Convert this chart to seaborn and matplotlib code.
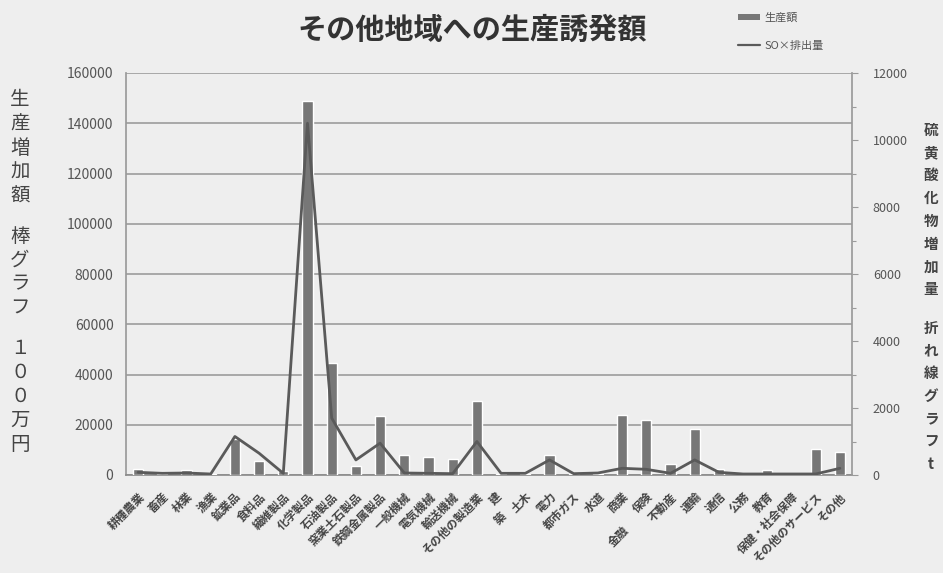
import matplotlib
matplotlib.use("Agg")
import matplotlib.pyplot as plt
import matplotlib.ticker as mticker
import matplotlib.transforms as mtransforms
from matplotlib.patches import Patch
from matplotlib.lines import Line2D
import pandas as pd
import seaborn as sns

# 産業部門（軸ラベルに表示する文字列）
sectors = [
    "耕種農業", "畜産", "林業", "漁業", "鉱業品", "食料品", "繊維製品", "化学製品",
    "石油製品", "窯業土石製品", "鉄鋼金属製品", "一般機械", "電気機械", "輸送機械",
    "その他の製造業", "建", "土木", "電力", "都市ガス", "水道", "商業", "保険",
    "不動産", "運輸", "通信", "公務", "教育", "保健・社会保障", "その他のサービス", "その他",
]
# ラベルの下に続けて書く文字（部門番号: 文字列）
label_tails = {15: "築", 20: "金融"}
# 生産誘発額（100万円）
production = [
    2500, 500, 2000, 300, 14500, 5500, 1500, 149000,
    44500, 3500, 23500, 7800, 7000, 6200,
    29500, 500, 300, 7800, 300, 300, 23800, 22000,
    4500, 18500, 2500, 300, 2000, 300, 10300, 9000,
]
# 硫黄酸化物排出量（t）
sox = [
    80, 50, 60, 30, 1150, 650, 50, 10500,
    1700, 450, 950, 60, 50, 40,
    1000, 50, 50, 450, 40, 60, 200, 170,
    50, 450, 80, 30, 30, 30, 30, 200,
]

title = "その他地域への生産誘発額"
left_label = ["生", "産", "増", "加", "額", None, "棒", "グ", "ラ", "フ", None,
              "１", "０", "０", "万", "円"]
right_label = ["硫", "黄", "酸", "化", "物", "増", "加", "量", None,
               "折", "れ", "線", "グ", "ラ", "フ", "t"]

sns.set_theme(style="white")
plt.rcParams["font.family"] = ["Noto Sans CJK JP", "DejaVu Sans"]

W, H = 943, 573
fig = plt.figure(figsize=(W / 100, H / 100), dpi=100)
bg = "#eeeeee"
fig.patch.set_facecolor(bg)

ax = fig.add_axes([126 / W, (H - 475) / H, (852 - 126) / W, (475 - 73) / H])
ax.set_facecolor(bg)

df = pd.DataFrame({"sector": sectors, "production": production, "sox": sox})
bar_color = "#777777"
line_color = "#5a5a5a"

sns.barplot(data=df, x="sector", y="production", color=bar_color, width=0.42,
            saturation=1, ax=ax, zorder=3)
ax.set_ylim(0, 160000)
ax.set_xlim(-0.5, len(sectors) - 0.5)
ax.yaxis.set_major_locator(mticker.MultipleLocator(20000))
ax.grid(axis="y", color="#959595", lw=1.1, zorder=0)
ax.set_axisbelow(True)
ax.set_xlabel("")
ax.set_ylabel("")
for s in ["top", "right"]:
    ax.spines[s].set_visible(False)
ax.spines["left"].set_color("#9a9a9a")
ax.spines["bottom"].set_color("#8a8a8a")
ax.spines["bottom"].set_linewidth(1.2)
ax.tick_params(axis="y", length=0, pad=9, labelsize=10, labelcolor="#555555")
ax.tick_params(axis="x", length=0, pad=11)
ax.set_xticks(range(len(sectors)))
xt_style = dict(rotation=45, ha="right", va="top", rotation_mode="anchor",
                fontsize=8.3, color="#444444", fontweight="bold")
ax.set_xticklabels(sectors, **xt_style)

# the two-row label for 建築 sits a little left of its tick
lbl = ax.get_xticklabels()[15]
lbl.set_transform(lbl.get_transform() +
                  mtransforms.ScaledTranslation(-0.06, 0, fig.dpi_scale_trans))
tail_offsets = {15: (-0.8, -25.5), 20: (0, -35.5)}
for i, txt in label_tails.items():
    ax.annotate(txt, xy=(i, 0), xycoords=ax.get_xaxis_transform(),
                xytext=tail_offsets[i], textcoords="offset points",
                annotation_clip=False, **xt_style)

ax2 = ax.twinx()
sns.lineplot(data=df, x="sector", y="sox", color=line_color, lw=2.0, ax=ax2,
             zorder=4, sort=False)
ax2.set_ylim(0, 12000)
ax2.yaxis.set_major_locator(mticker.MultipleLocator(2000))
ax2.yaxis.set_minor_locator(mticker.MultipleLocator(1000))
ax2.set_ylabel("")
ax2.set_xlabel("")
for s in ["top", "left", "bottom"]:
    ax2.spines[s].set_visible(False)
ax2.spines["right"].set_color("#9a9a9a")
ax2.tick_params(axis="y", which="both", direction="out", length=4, width=0.8,
                color="#9a9a9a", pad=11, labelsize=9, labelcolor="#555555")
ax2.tick_params(axis="y", which="minor", length=3)
ax2.grid(False)

fig.text(472 / W, 1 - 30 / H, title, ha="center", va="center",
         fontsize=21, fontweight="bold", color="#333333")

handles = [Patch(facecolor=bar_color, edgecolor="none"),
           Line2D([0], [0], color=line_color, lw=1.6)]
fig.legend(handles, ["生産額", "SO×排出量"], loc="upper left",
           bbox_to_anchor=(728 / W, 1 - 3 / H), frameon=False, fontsize=8,
           handlelength=2.0, handleheight=0.5, labelspacing=1.6,
           handletextpad=0.4, labelcolor="#555555")

# vertical axis titles, one character per row
def vertical_label(chars, x, y0, step, gap, size, weight, color):
    g = 0
    i = 0
    for ch in chars:
        if ch is None:
            g += 1
            continue
        y = y0 + i * step + g * gap
        fig.text(x / W, 1 - y / H, ch, ha="center", va="center",
                 fontsize=size, fontweight=weight, color=color)
        i += 1

vertical_label(left_label, 20, 100, 24, 16, 14, "normal", "#444444")
vertical_label(right_label, 931, 130, 22.7, 16, 10.5, "bold", "#444444")

fig.savefig("out.png", dpi=100, facecolor=bg)
